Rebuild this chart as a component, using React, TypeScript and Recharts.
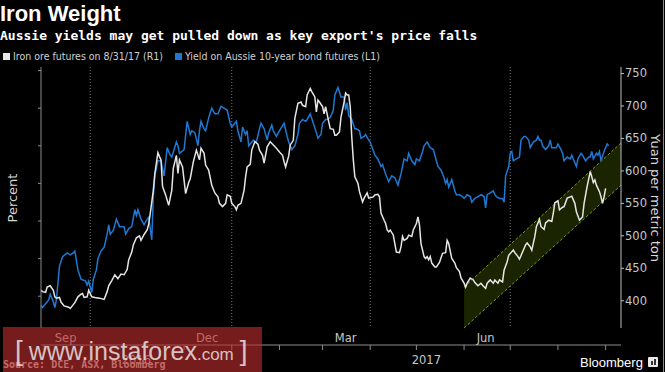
import React from "react";
import {
  ComposedChart,
  Line,
  Area,
  XAxis,
  YAxis,
  CartesianGrid,
} from "recharts";

// x values are days counted from 1 Sep 2016
const yieldDays = [
  -2, -1, 3, 4, 6, 7, 8, 10, 12, 15,
  17, 19, 20, 22, 24, 27, 28, 29, 31, 32,
  34, 35, 37, 39, 41, 42, 43, 45, 47, 49,
  52, 53, 55, 57, 59, 60, 61, 63, 65, 67,
  68, 70, 71, 72, 74, 76, 78, 80, 82, 83,
  86, 87, 88, 91, 93, 95, 96, 98, 100, 101,
  102, 104, 105, 107, 109, 111, 113, 115, 117, 119,
  121, 122, 125, 126, 128, 129, 131, 132, 133, 135,
  136, 138, 140, 141, 143, 145, 146, 148, 149, 151,
  153, 156, 158, 159, 161, 163, 165, 166, 168, 170,
  171, 173, 175, 177, 178, 180, 181, 183, 184, 186,
  188, 189, 191, 193, 195, 196, 197, 198, 200, 202,
  203, 205, 206, 208, 209, 211, 212, 215, 217, 219,
  220, 222, 224, 226, 228, 230, 232, 234, 236, 237,
  239, 241, 242, 244, 246, 247, 249, 251, 253, 255,
  256, 258, 260, 261, 262, 263, 265, 267, 268, 270,
  272, 273, 275, 277, 278, 280, 282, 284, 286, 287,
  288, 290, 292, 293, 294, 296, 298, 299, 300, 302,
  303, 304, 305, 307, 309, 310, 312, 313, 315, 316,
  318, 320, 321, 322, 323, 324, 326, 328, 329, 330,
  331, 333, 334, 336, 337, 338, 340, 342, 343, 344,
  346, 347, 349, 350, 352, 354, 355, 356, 357, 359,
  360, 361, 362, 364, 366, 367,
];
const yieldPct = [
  1.85, 1.84, 1.88, 1.91, 1.87, 1.84, 1.88, 2.06, 2.11, 2.13,
  2.12, 2.13, 2.14, 2.04, 1.99, 1.98, 1.96, 1.98, 1.92, 1.99,
  2.04, 2.1, 2.14, 2.16, 2.23, 2.28, 2.23, 2.25, 2.31, 2.27,
  2.27, 2.23, 2.26, 2.27, 2.36, 2.33, 2.36, 2.31, 2.28, 2.31,
  2.32, 2.2, 2.43, 2.54, 2.62, 2.62, 2.54, 2.69, 2.65, 2.64,
  2.72, 2.7, 2.66, 2.68, 2.83, 2.76, 2.78, 2.77, 2.7, 2.78,
  2.83, 2.79, 2.78, 2.85, 2.9, 2.87, 2.87, 2.91, 2.9, 2.89,
  2.82, 2.8, 2.83, 2.78, 2.72, 2.8, 2.76, 2.78, 2.7, 2.72,
  2.73, 2.72, 2.79, 2.82, 2.79, 2.73, 2.77, 2.81, 2.78, 2.75,
  2.78, 2.82, 2.75, 2.72, 2.68, 2.7, 2.76, 2.82, 2.84, 2.83,
  2.84, 2.87, 2.82, 2.77, 2.74, 2.76, 2.82, 2.84, 2.84, 2.85,
  2.89, 2.97, 3.01, 2.96, 2.96, 2.89, 2.93, 2.86, 2.84, 2.79,
  2.79, 2.78, 2.74, 2.75, 2.76, 2.73, 2.72, 2.65, 2.63, 2.59,
  2.6, 2.55, 2.51, 2.54, 2.53, 2.49, 2.55, 2.63, 2.62, 2.66,
  2.62, 2.6, 2.63, 2.62, 2.67, 2.7, 2.72, 2.69, 2.68, 2.62,
  2.59, 2.57, 2.53, 2.5, 2.52, 2.48, 2.52, 2.46, 2.44, 2.44,
  2.43, 2.42, 2.44, 2.43, 2.4, 2.42, 2.43, 2.44, 2.43, 2.37,
  2.44, 2.45, 2.46, 2.44, 2.43, 2.42, 2.42, 2.4, 2.54, 2.59,
  2.66, 2.67, 2.62, 2.63, 2.64, 2.73, 2.75, 2.75, 2.73, 2.69,
  2.72, 2.73, 2.75, 2.73, 2.73, 2.7, 2.68, 2.7, 2.73, 2.69,
  2.69, 2.69, 2.71, 2.68, 2.66, 2.62, 2.64, 2.63, 2.65, 2.63,
  2.59, 2.63, 2.66, 2.65, 2.62, 2.64, 2.64, 2.67, 2.63, 2.66,
  2.65, 2.67, 2.62, 2.67, 2.71, 2.7,
];

const ironDays = [
  -2, -1, 1, 2, 4, 6, 7, 8, 10, 11,
  13, 16, 17, 19, 20, 22, 24, 25, 26, 28,
  29, 31, 33, 36, 39, 41, 42, 44, 46, 48,
  50, 52, 54, 55, 57, 58, 60, 62, 63, 65,
  67, 68, 69, 71, 72, 74, 75, 76, 77, 79,
  81, 83, 84, 86, 87, 88, 90, 92, 94, 95,
  97, 99, 101, 102, 104, 105, 107, 109, 111, 113,
  114, 116, 118, 119, 121, 122, 124, 125, 126, 128,
  130, 131, 132, 134, 135, 137, 139, 140, 142, 143,
  145, 147, 149, 151, 153, 155, 156, 157, 159, 160,
  162, 163, 165, 167, 168, 170, 171, 173, 174, 176,
  177, 178, 179, 181, 182, 183, 185, 186, 188, 189,
  190, 192, 193, 195, 196, 197, 198, 199, 200, 201,
  202, 204, 205, 207, 208, 210, 211, 214, 215, 217,
  218, 219, 221, 222, 223, 224, 225, 227, 228, 229,
  231, 232, 233, 234, 236, 237, 239, 240, 242, 243,
  244, 245, 247, 248, 249, 250, 251, 252, 254, 255,
  257, 259, 261, 262, 263, 265, 267, 268, 270, 271,
  273, 274, 275, 277, 279, 280, 282, 284, 285, 287,
  288, 290, 292, 293, 295, 296, 298, 299, 301, 302,
  305, 306, 308, 309, 311, 313, 314, 316, 317, 319,
  320, 322, 323, 325, 326, 328, 330, 331, 332, 334,
  335, 337, 338, 340, 342, 343, 345, 346, 348, 350,
  351, 353, 355, 356, 357, 358, 359, 361, 362, 363,
  364, 365,
];
const ironYuan = [
  416, 414, 413, 421, 423, 416, 406, 404, 405, 398,
  392, 390, 388, 394, 397, 406, 410, 411, 405, 406,
  416, 406, 405, 404, 402, 414, 423, 431, 440, 434,
  441, 440, 448, 463, 475, 486, 497, 500, 493, 502,
  509, 518, 534, 570, 596, 628, 622, 617, 576, 563,
  547, 570, 604, 624, 596, 617, 606, 565, 582, 588,
  614, 632, 617, 635, 627, 609, 601, 578, 566, 560,
  550, 545, 550, 563, 561, 550, 545, 540, 547, 550,
  570, 591, 606, 610, 632, 645, 641, 632, 624, 612,
  637, 645, 640, 635, 629, 624, 614, 606, 623, 640,
  647, 681, 704, 706, 701, 699, 717, 727, 722, 714,
  691, 709, 706, 699, 688, 699, 676, 665, 664, 655,
  655, 660, 683, 706, 720, 717, 717, 699, 652, 617,
  591, 581, 568, 552, 558, 566, 558, 560, 563, 564,
  560, 535, 524, 519, 509, 506, 509, 501, 488, 475,
  474, 483, 499, 493, 496, 501, 499, 509, 519, 529,
  517, 488, 468, 465, 468, 463, 468, 458, 452, 452,
  459, 473, 474, 493, 488, 465, 458, 451, 445, 435,
  427, 421, 427, 435, 432, 428, 423, 427, 424, 419,
  427, 432, 427, 432, 427, 432, 429, 447, 460, 470,
  478, 474, 468, 464, 475, 486, 489, 483, 478, 499,
  514, 525, 514, 510, 520, 524, 522, 535, 551, 554,
  540, 544, 545, 558, 560, 561, 550, 537, 524, 529,
  550, 576, 599, 591, 582, 586, 578, 568, 560, 550,
  560, 573,
];

// rising channel drawn under the iron ore line (yuan)
const channelDays = [273, 375];
const channelLow = [358, 578];
const channelHigh = [421, 643];

const monthStarts = [0, 30, 61, 91, 122, 153, 181, 212, 242, 273, 303, 334, 365];
const monthLabelDays = [14, 106, 196, 287];
const monthLabels = ["Sep", "Dec", "Mar", "Jun"];
const yearLabelDays = [60, 248.5];
const yearLabels = ["2016", "2017"];
const quarterStarts = [30, 122, 212, 303];

const pctTicks = [1.8, 1.9, 2.0, 2.1, 2.2, 2.3, 2.4, 2.5, 2.6, 2.7, 2.8, 2.9, 3.0, 3.1];
const yuanTicks = [375, 400, 425, 450, 475, 500, 525, 550, 575, 600, 625, 650, 675, 700, 725, 750];
const yuanGrid = [400, 450, 500, 550, 600, 650, 700, 750];

const X_DOMAIN = [-2, 375];
const YUAN_DOMAIN = [358, 760];
const PLOT_WIDTH = 579;

const BLUE = "#1f78d1";
const WHITE = "#e6e6e6";
const AXIS = "#8c8c8c";
const TICK_TEXT = "#c8c8c8";
const GRID = "#7a7a7a";

function buildRows() {
  const byDay = new Map<number, any>();
  const put = (d: number, key: string, v: any) => {
    const row = byDay.get(d) ?? { day: d };
    row[key] = v;
    byDay.set(d, row);
  };
  yieldDays.forEach((d, i) => put(d, "yield", yieldPct[i]));
  ironDays.forEach((d, i) => put(d, "iron", ironYuan[i]));
  channelDays.forEach((d, i) => put(d, "channel", [channelLow[i], channelHigh[i]]));
  return [...byDay.values()].sort((a, b) => a.day - b.day);
}

const rows = buildRows();

const PctTick = (props: any) => {
  const { x, y, payload } = props;
  if (Math.round(payload.value * 10) % 2 !== 0) return <g />;
  return (
    <text x={x} y={y} dy={4} textAnchor="end" fill={TICK_TEXT} fontSize={11.5}>
      {payload.value.toFixed(1)}
    </text>
  );
};

const YuanTick = (props: any) => {
  const { x, y, payload } = props;
  if (payload.value % 50 !== 0) return <g />;
  return (
    <text x={x} y={y} dy={4} textAnchor="start" fill={TICK_TEXT} fontSize={11.5}>
      {payload.value}
    </text>
  );
};

const font = "'DejaVu Sans', sans-serif";

export default function App() {
  return (
    <div
      style={{
        position: "fixed",
        left: 0,
        top: 0,
        width: 665,
        height: 372,
        background: "#000",
        overflow: "hidden",
        fontFamily: font,
      }}
    >
      <div
        style={{
          position: "absolute",
          left: 0,
          top: 3,
          fontFamily: "'Liberation Sans', Arial, sans-serif",
          fontWeight: 700,
          fontSize: 22,
          lineHeight: "22px",
          color: "#fff",
        }}
      >
        Iron Weight
      </div>
      <div
        style={{
          position: "absolute",
          left: 0,
          top: 28,
          fontFamily: "'DejaVu Sans Mono', monospace",
          fontWeight: 700,
          fontSize: 13,
          lineHeight: "15px",
          color: "#fff",
          whiteSpace: "nowrap",
        }}
      >
        Aussie yields may get pulled down as key export's price falls
      </div>
      <div
        style={{
          position: "absolute",
          left: 3,
          top: 50,
          display: "flex",
          alignItems: "center",
          fontFamily: "'Liberation Sans Narrow', 'DejaVu Sans Condensed', 'Liberation Sans', sans-serif",
          fontSize: 10.5,
          lineHeight: "12px",
          color: "#d0d0d0",
          whiteSpace: "nowrap",
        }}
      >
        <span style={{ width: 7, height: 7, background: WHITE, marginRight: 3 }} />
        <span style={{ marginRight: 12 }}>Iron ore futures on 8/31/17 (R1)</span>
        <span style={{ width: 7, height: 7, background: BLUE, marginRight: 3 }} />
        <span>Yield on Aussie 10-year bond futures (L1)</span>
      </div>

      <div style={{ position: "absolute", left: 0, top: 0 }}>
        <ComposedChart
          width={665}
          height={372}
          data={rows}
          margin={{ top: 67, right: 4, bottom: 4, left: 5 }}
        >
          <CartesianGrid
            xAxisId="m"
            yAxisId="right"
            horizontal={false}
            verticalValues={quarterStarts}
            stroke={GRID}
            strokeWidth={1}
            strokeDasharray="1 2"
          />

          <XAxis
            xAxisId="m"
            dataKey="day"
            type="number"
            domain={X_DOMAIN}
            ticks={monthStarts}
            tick={() => <g />}
            tickSize={5}
            tickLine={{ stroke: AXIS }}
            axisLine={{ stroke: AXIS }}
            height={5}
          />
          <XAxis
            xAxisId="lab"
            dataKey="day"
            type="number"
            domain={X_DOMAIN}
            ticks={monthLabelDays}
            tickFormatter={(v: number) => monthLabels[monthLabelDays.indexOf(v)]}
            tick={{ fill: TICK_TEXT, fontSize: 11.5 }}
            tickLine={false}
            axisLine={false}
            tickSize={4}
            tickMargin={2}
            height={17}
          />
          <XAxis
            xAxisId="yr"
            dataKey="day"
            type="number"
            domain={X_DOMAIN}
            ticks={yearLabelDays}
            tickFormatter={(v: number) => yearLabels[yearLabelDays.indexOf(v)]}
            tick={{ fill: TICK_TEXT, fontSize: 11.5 }}
            tickLine={false}
            axisLine={false}
            tickSize={4}
            tickMargin={2}
            height={18}
          />
          <YAxis
            yAxisId="left"
            orientation="left"
            type="number"
            domain={[1.731, 3.119]}
            ticks={pctTicks}
            tick={<PctTick />}
            tickSize={3}
            tickMargin={3}
            tickLine={{ stroke: AXIS }}
            axisLine={{ stroke: AXIS }}
            width={36}
          />
          {/* 1px mirrored axis whose long tick lines form the horizontal grid */}
          <YAxis
            yAxisId="gridY"
            orientation="right"
            type="number"
            domain={YUAN_DOMAIN}
            ticks={yuanGrid}
            interval={0}
            mirror
            width={1}
            tick={() => <g />}
            tickSize={PLOT_WIDTH}
            tickLine={{ stroke: GRID, strokeDasharray: "1 2" }}
            axisLine={false}
          />
          <YAxis
            yAxisId="right"
            orientation="right"
            type="number"
            domain={YUAN_DOMAIN}
            ticks={yuanTicks}
            tick={<YuanTick />}
            tickSize={3}
            tickMargin={1}
            tickLine={{ stroke: "#bdbdbd" }}
            axisLine={{ stroke: "#bdbdbd" }}
            width={40}
          />

          <Area
            xAxisId="m"
            yAxisId="right"
            dataKey="channel"
            type="linear"
            connectNulls
            fill="#1a2400"
            fillOpacity={1}
            stroke="#7c9c1c"
            strokeDasharray="3 2"
            strokeWidth={1}
            isAnimationActive={false}
          />
          <Line
            xAxisId="m"
            yAxisId="left"
            dataKey="yield"
            type="linear"
            connectNulls
            dot={false}
            stroke={BLUE}
            strokeWidth={1.5}
            isAnimationActive={false}
          />
          <Line
            xAxisId="m"
            yAxisId="right"
            dataKey="iron"
            type="linear"
            connectNulls
            dot={false}
            stroke={WHITE}
            strokeWidth={1.5}
            isAnimationActive={false}
          />
        </ComposedChart>
      </div>

      <div
        style={{
          position: "absolute",
          left: 12,
          top: 198,
          transform: "translate(-50%, -50%) rotate(-90deg)",
          fontSize: 13,
          color: "#d8d8d8",
          whiteSpace: "nowrap",
        }}
      >
        Percent
      </div>
      <div
        style={{
          position: "absolute",
          left: 655,
          top: 198,
          transform: "translate(-50%, -50%) rotate(90deg)",
          fontSize: 13,
          color: "#d8d8d8",
          whiteSpace: "nowrap",
        }}
      >
        Yuan per metric ton
      </div>

      <div
        style={{
          position: "absolute",
          left: 3,
          top: 359,
          fontFamily: "'DejaVu Sans Mono', monospace",
          fontWeight: 700,
          fontSize: 10,
          lineHeight: "12px",
          color: "#cfcfcf",
          whiteSpace: "nowrap",
        }}
      >
        Source: DCE, ASX, Bloomberg
      </div>
      <div
        style={{
          position: "absolute",
          left: 580,
          top: 355,
          fontFamily: "'Liberation Sans', Arial, sans-serif",
          fontSize: 13,
          lineHeight: "15px",
          color: "#fff",
        }}
      >
        Bloomberg
      </div>
      <div
        style={{
          position: "absolute",
          left: 648,
          top: 357,
          width: 10,
          height: 10,
          background: "#e8e8e8",
          borderRadius: 1,
          display: "flex",
          alignItems: "flex-end",
          justifyContent: "center",
          gap: 1,
          paddingBottom: 2,
          boxSizing: "border-box",
        }}
      >
        <span style={{ width: 2, height: 4, background: "#333" }} />
        <span style={{ width: 2, height: 6, background: "#333" }} />
      </div>
      <div
        style={{
          position: "absolute",
          left: 663,
          top: 0,
          width: 1,
          height: 372,
          background: "#8a8a8a",
        }}
      />

      <div
        style={{
          position: "absolute",
          left: 3,
          top: 327,
          width: 259,
          height: 45,
          background: "rgba(190, 45, 45, 0.62)",
          color: "rgba(235, 225, 225, 0.85)",
          fontFamily: "'Liberation Sans', Arial, sans-serif",
          display: "flex",
          alignItems: "baseline",
          paddingLeft: 12,
          paddingTop: 8,
          boxSizing: "border-box",
          whiteSpace: "nowrap",
        }}
      >
        <span style={{ fontSize: 28, marginRight: 6 }}>[</span>
        <span style={{ fontSize: 25 }}>www.instaforex</span>
        <span style={{ fontSize: 17 }}>.com</span>
        <span style={{ fontSize: 28, marginLeft: 6 }}>]</span>
      </div>
    </div>
  );
}
